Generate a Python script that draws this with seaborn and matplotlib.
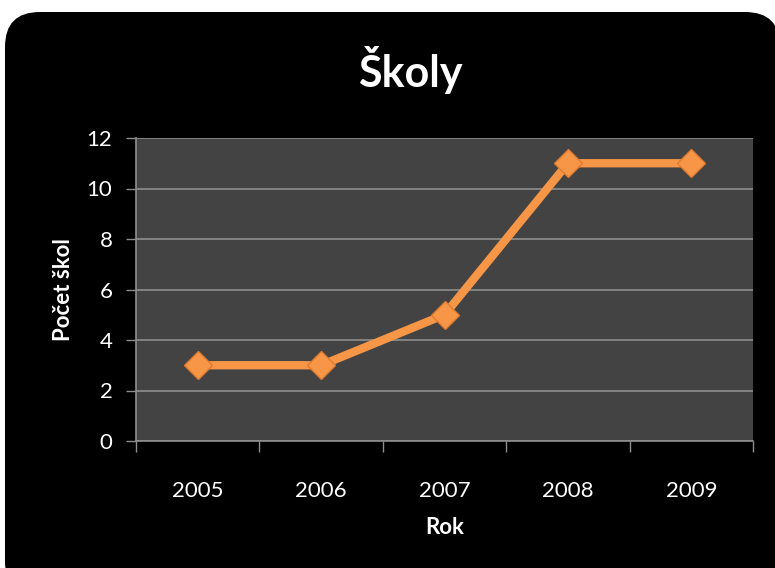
import numpy as np
import pandas as pd
import seaborn as sns
import matplotlib.pyplot as plt
from matplotlib.patches import FancyBboxPatch
from matplotlib.ticker import FixedLocator, NullFormatter

# chart data
years = ["2005", "2006", "2007", "2008", "2009"]
schools = [3, 3, 5, 11, 11]
y_ticks = [0, 2, 4, 6, 8, 10, 12]

sns.set_theme(style="dark")
plt.rcParams["font.family"] = ["Lato", "DejaVu Sans"]

df = pd.DataFrame({"rok": np.arange(len(years)), "pocet": schools})

fig = plt.figure(figsize=(7.75, 5.68), dpi=100, facecolor="white")

# black rounded background panel
bg = FancyBboxPatch(
    (5 / 775, -0.05), 1.0, 1.0 - 12 / 568 + 0.05,
    boxstyle="round,pad=0,rounding_size=0.045",
    transform=fig.transFigure, facecolor="black", edgecolor="none",
    mutation_aspect=775 / 568, zorder=-10,
)
fig.patches.append(bg)

ax = fig.add_axes([136 / 775, (568 - 441) / 568, (753 - 136) / 775, (441 - 138) / 568])
ax.set_zorder(1)
ax.set_facecolor("#434343")

sns.lineplot(
    data=df, x="rok", y="pocet", ax=ax,
    color="#F79646", linewidth=6,
    marker="D", markersize=14,
    markerfacecolor="#F79646", markeredgecolor="#E07A2E", markeredgewidth=1,
    zorder=5,
)

ax.set_xlim(-0.5, len(years) - 0.5)
ax.set_ylim(0, 12)

# y axis
ax.set_yticks(y_ticks)
ax.yaxis.grid(True, color="#8E8E8E", linewidth=1.2)
ax.xaxis.grid(False)
ax.tick_params(axis="y", colors="#8E8E8E", length=7, width=1, direction="out",
               labelcolor="white", labelsize=16, pad=10, left=True)

# x axis: ticks at category boundaries, labels at centers
ax.xaxis.set_major_locator(FixedLocator(np.arange(-0.5, len(years), 1.0)))
ax.xaxis.set_major_formatter(NullFormatter())
ax.xaxis.set_minor_locator(FixedLocator(np.arange(len(years))))
ax.set_xticklabels(years, minor=True)
ax.tick_params(axis="x", which="major", colors="#8E8E8E", length=8, width=1,
               direction="out", bottom=True)
ax.tick_params(axis="x", which="minor", length=0, labelcolor="white",
               labelsize=16, pad=29)

for side in ["top", "right"]:
    ax.spines[side].set_visible(False)
for side in ["left", "bottom"]:
    ax.spines[side].set_visible(True)
    ax.spines[side].set_color("#8E8E8E")
    ax.spines[side].set_linewidth(1.2)

ax.set_xlabel("Rok", color="white", fontsize=16, fontweight="bold", labelpad=11)
ax.set_ylabel("Počet škol", color="white", fontsize=16, fontweight="bold", labelpad=9)

fig.text(410 / 775, 1 - 70 / 568, "Školy", color="white", fontsize=31,
         fontweight="bold", ha="center", va="center")

fig.savefig("out.png", dpi=100, facecolor="white")
